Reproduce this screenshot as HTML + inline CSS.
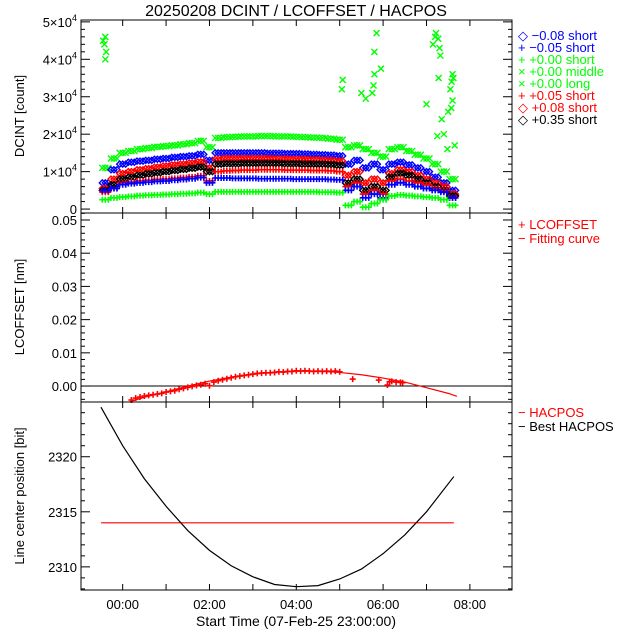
<!DOCTYPE html>
<html><head><meta charset="utf-8"><style>
html,body{margin:0;padding:0;background:#fff;}
svg{display:block;font-family:"Liberation Sans",sans-serif;}
</style></head><body>
<svg id="chart" width="640" height="640" viewBox="0 0 640 640" xmlns="http://www.w3.org/2000/svg">
<rect width="640" height="640" fill="#fff"/>
<text x="296" y="16" font-size="16" text-anchor="middle">20250208 DCINT / LCOFFSET / HACPOS</text>
<g id="plots"></g>
<g font-size="13">
<text x="518" y="40" fill="#0000ff">◇ −0.08 short</text>
<text x="518" y="52" fill="#0000ff">+ −0.05 short</text>
<text x="518" y="64" fill="#00ff00">+ +0.00 short</text>
<text x="518" y="76" fill="#00ff00">× +0.00 middle</text>
<text x="518" y="88" fill="#00ff00">× +0.00 long</text>
<text x="518" y="100" fill="#ff0000">+ +0.05 short</text>
<text x="518" y="112" fill="#ff0000">◇ +0.08 short</text>
<text x="518" y="124" fill="#000">◇ +0.35 short</text>
</g>
<g font-size="13" fill="#ff0000">
<text x="518" y="229">+ LCOFFSET</text>
<text x="518" y="243">− Fitting curve</text>
</g>
<g font-size="13">
<text x="518" y="417" fill="#ff0000">− HACPOS</text>
<text x="518" y="431" fill="#000">− Best HACPOS</text>
</g>
<text x="296" y="626" font-size="14" text-anchor="middle">Start Time (07-Feb-25 23:00:00)</text>
</svg>
<script>
// ---- data ----
const times = [-0.4,-0.2,0,0.2,0.4,0.6,0.8,1,1.2,1.4,1.6,1.8,2,2.2,2.4,2.6,2.8,3,3.2,3.4,3.6,3.8,4,4.2,4.4,4.6,4.8,5,5.2,5.4,5.6,5.8,6,6.2,6.4,6.6,6.8,7,7.2,7.4,7.6];
const greenTop = [11,13.5,15,15.5,16,16.3,16.6,16.8,17,17.3,17.6,18.2,16.5,19,19.2,19.3,19.4,19.4,19.5,19.5,19.4,19.4,19.3,19.2,19.1,19,18.8,18.5,16.5,17,16,15,14,16,16.5,15.5,14.5,13.5,12,10,8];
const blueDiamond = [7,10.5,12,12.5,12.8,13,13.3,13.5,13.8,14,14.2,14.6,13,15,15,15,15,15,15,14.9,14.9,14.8,14.8,14.7,14.6,14.5,14.4,14.2,12,13,11,12,10.5,12,12.5,11.8,11,10,8.5,7,5];
const redDiamond = [5.5,8,9.5,10,10.5,10.8,11.2,11.5,11.8,12,12.3,12.6,11,13.3,13.5,13.5,13.5,13.5,13.5,13.5,13.4,13.4,13.3,13.3,13.2,13.1,13,12.8,9,10,7,8,7,9.5,10.5,10,9,8,7,6,4];
const blackDiamond = [5,6.5,8,8.5,9,9.4,9.7,10,10.3,10.6,10.9,11.2,10,12,12.1,12.1,12.2,12.2,12.2,12.2,12.2,12.1,12.1,12,12,12,11.9,11.7,7,8,5,6,5,8.5,9.5,9,8,7,6,5,3.5];
const redPlus = [4.5,5.5,7,7.2,7.5,7.7,7.9,8,8.2,8.4,8.6,8.9,7.5,10,10.2,10.3,10.4,10.4,10.5,10.5,10.5,10.4,10.4,10.4,10.3,10.3,10.2,10,6,7,4,5,4,7.5,8,7.5,7,6.5,5.5,5,3];
const bluePlus = [5,5.5,6.5,6.8,7,7.2,7.4,7.5,7.7,7.9,8.1,8.4,7,8.3,8.3,8.2,8.2,8.2,8.1,8.1,8.1,8.1,8,8,8,8,7.9,7.8,5,6,3,4,3,6.5,7,6.5,6,5.5,5,4.5,3];
const greenPlus = [2.5,3,3.2,3.4,3.6,3.7,3.8,3.9,4,4.1,4.2,4.4,4,4.6,4.6,4.6,4.6,4.6,4.6,4.6,4.6,4.6,4.6,4.6,4.6,4.5,4.5,4.4,1,2,0.5,1.5,2.5,3.5,3.8,3.6,3.4,3.2,3,2.5,1];
const outlierT = [-0.45,-0.4,-0.42,-0.38,-0.4,5.05,5.07,5.5,5.6,5.75,5.8,5.85,5.8,5.78,5.95,7.0,7.15,7.2,7.22,7.3,7.32,7.28,7.35,7.4,7.25,7.27,7.6,7.62,7.58,7.55,7.6,7.57,7.5,7.48,7.65];
const outlierV = [45,46,44,42,40,32,34.5,31,29.5,31,36,47,42,33,37.5,28,44,46,47,43,41,35,24,20,19.5,45.5,36,35,34,32,29,27,26,16,17];
const lcT = [0.2,0.3,0.4,0.5,0.6,0.7,0.8,0.9,1.0,1.1,1.2,1.3,1.4,1.5,1.6,1.7,1.8,1.9,2.0,2.1,2.2,2.3,2.4,2.5,2.6,2.7,2.8,2.9,3.0,3.1,3.2,3.3,3.4,3.5,3.6,3.7,3.8,3.9,4.0,4.1,4.2,4.3,4.4,4.5,4.6,4.7,4.8,4.9,5.0,5.3,5.9,6.1,6.15,6.2,6.3,6.4,6.45];
const lcV = [-0.0042,-0.0036,-0.0033,-0.0030,-0.0028,-0.0026,-0.0024,-0.0022,-0.0018,-0.0016,-0.0014,-0.0010,-0.0007,-0.0004,-0.0001,0.0002,0.0004,0.0007,0.0001,0.0012,0.0016,0.0019,0.0022,0.0025,0.0028,0.0030,0.0032,0.0034,0.0036,0.0038,0.0039,0.0040,0.0040,0.0041,0.0043,0.0042,0.0044,0.0044,0.0046,0.0045,0.0046,0.0045,0.0044,0.0045,0.0044,0.0045,0.0044,0.0045,0.0043,0.0021,0.0018,0.0003,0.0013,0.0014,0.0012,0.0011,0.0010];
const fitT = [0.17,0.5,1,1.5,2,2.5,3,3.5,4,4.5,5,5.5,6,6.5,7,7.5,7.7];
const fitV = [-0.0047,-0.0034,-0.0017,0.0000,0.0015,0.0027,0.0036,0.0042,0.0045,0.0045,0.0041,0.0034,0.0024,0.0012,-0.0005,-0.0022,-0.0031];
const bestT = [-0.5,0,0.5,1,1.5,2,2.5,3,3.5,4,4.5,5,5.5,6,6.5,7,7.63];
const bestV = [2324.5,2321.0,2318.0,2315.5,2313.3,2311.5,2310.1,2309.1,2308.4,2308.2,2308.3,2308.9,2309.8,2311.2,2312.9,2315.0,2318.2];
const hacT = [-0.5,7.63];
const hacV = [2314.0,2314.0];
const xTickLabels = ["00:00","02:00","04:00","06:00","08:00"];
const xTickHours = [0,2,4,6,8];

// ---- axes ----
const NS="http://www.w3.org/2000/svg";
const X0=81,X1=512,T0=-0.96,T1=8.97;
const xs=t=>X0+(t-T0)/(T1-T0)*(X1-X0);
const P1={top:20,bot:213,lo:-1.05,hi:50.5};
const P2={top:213,bot:402,lo:-0.0048,hi:0.0521};
const P3={top:402,bot:590,lo:2307.9,hi:2324.97};
const ys=(p,v)=>p.bot-(v-p.lo)/(p.hi-p.lo)*(p.bot-p.top);
const root=document.getElementById('plots');
function mk(tag,attrs,parent){const e=document.createElementNS(NS,tag);for(const k in attrs)e.setAttribute(k,attrs[k]);(parent||root).appendChild(e);return e;}

function frame(p,name){
  const g=mk('g',{});
  
  
  mk('rect',{x:X0,y:p.top,width:X1-X0,height:p.bot-p.top,fill:'none',stroke:'#000','stroke-width':1},g);
  for(let h=0;h<=8;h++){const x=xs(h);
    mk('line',{x1:x,x2:x,y1:p.bot,y2:p.bot-6,stroke:'#000'},g);
    mk('line',{x1:x,x2:x,y1:p.top,y2:p.top+6,stroke:'#000'},g);}
  return g;
}
function yticks(g,p,major,minor,fmt){
  for(let v=Math.ceil(p.lo/minor)*minor;v<=p.hi+1e-9;v+=minor){
    const y=ys(p,v);const isMaj=Math.abs(v/major-Math.round(v/major))<1e-6;const L=isMaj?9:4;
    mk('line',{x1:X0,x2:X0+L,y1:y,y2:y,stroke:'#000'},g);
    mk('line',{x1:X1,x2:X1-L,y1:y,y2:y,stroke:'#000'},g);
    if(isMaj&&fmt){const t=mk('text',{x:X0-4,y:y+5,'font-size':13,'text-anchor':'end'},g);t.innerHTML=fmt(v);}
  }
}
function marker(g,type,x,y,c){
  const s=3;
  if(type==='plus'){mk('path',{d:`M${x-s} ${y}h${2*s}M${x} ${y-s}v${2*s}`,stroke:c,'stroke-width':1.6,fill:'none'},g);}
  else if(type==='x'){mk('path',{d:`M${x-s} ${y-s}l${2*s} ${2*s}M${x-s} ${y+s}l${2*s} ${-2*s}`,stroke:c,'stroke-width':1.4,fill:'none'},g);}
  else {mk('path',{d:`M${x} ${y-s}l${s} ${s}l${-s} ${s}l${-s} ${-s}z`,stroke:c,'stroke-width':1.4,fill:'none'},g);}
}
// each measurement drawn as a tight cluster of glyphs (dense IDL look)
const clusterDx=[-3,0,3];

// Panel 1
const g1=frame(P1,'dcint-panel');
yticks(g1,P1,10,2,v=>{const n=Math.round(v/10);return n===0?'0':n+'×10<tspan dy="-6" font-size="9">4</tspan>';});
const clip=mk('clipPath',{id:'c1'});mk('rect',{x:X0,y:P1.top,width:X1-X0,height:P1.bot-P1.top},clip);
const series=[[greenTop,'x','#00ff00','series-green-middle'],[blueDiamond,'d','#0000ff','series-blue-diamond'],[redDiamond,'d','#ff0000','series-red-diamond'],[blackDiamond,'d','#000000','series-black-diamond'],[redPlus,'plus','#ff0000','series-red-plus'],[bluePlus,'plus','#0000ff','series-blue-plus'],[greenPlus,'plus','#00ff00','series-green-plus']];
series.forEach(([vals,type,c,name])=>{
  const g=mk('g',{'clip-path':'url(#c1)'});
  
  
  const n=Math.min(vals.length,times.length);
  for(let i=0;i<n;i++){const x=xs(times[i]),y=ys(P1,vals[i]);clusterDx.forEach(dx=>marker(g,type,x+dx,y,c));}
});
{const g=mk('g',{'clip-path':'url(#c1)'});


for(let i=0;i<outlierT.length;i++)marker(g,'x',xs(outlierT[i]),ys(P1,outlierV[i]),'#00ff00');}
mk('text',{x:24,y:116,'font-size':13,'text-anchor':'middle',transform:'rotate(-90 24 116)'}).textContent='DCINT [count]';

// Panel 2
const g2=frame(P2,'lcoffset-panel');
yticks(g2,P2,0.01,0.002,v=>v.toFixed(2));
mk('line',{x1:X0,x2:X1,y1:ys(P2,0),y2:ys(P2,0),stroke:'#000'},g2);
{const g=mk('g',{});


for(let i=0;i<lcT.length;i++)marker(g,'plus',xs(lcT[i]),ys(P2,lcV[i]),'#ff0000');}
{const p=mk('polyline',{points:fitT.map((t,i)=>xs(t)+','+ys(P2,fitV[i])).join(' '),fill:'none',stroke:'#ff0000','stroke-width':1.2});

}
mk('text',{x:24,y:307,'font-size':13,'text-anchor':'middle',transform:'rotate(-90 24 307)'}).textContent='LCOFFSET [nm]';

// Panel 3
const g3=frame(P3,'hacpos-panel');
yticks(g3,P3,5,1,v=>String(Math.round(v)));
{const p=mk('polyline',{points:hacT.map((t,i)=>xs(t)+','+ys(P3,hacV[i])).join(' '),fill:'none',stroke:'#ff0000','stroke-width':1.2});

}
{const p=mk('path',{d:'',fill:'none',stroke:'#000','stroke-width':1.2});
let d='M'+xs(bestT[0])+' '+ys(P3,bestV[0]);
for(let i=1;i<bestT.length;i++){d+=' L'+xs(bestT[i])+' '+ys(P3,bestV[i]);}
p.setAttribute('d',d);

}
mk('text',{x:24,y:496,'font-size':13,'text-anchor':'middle',transform:'rotate(-90 24 496)'}).textContent='Line center position [bit]';
xTickHours.forEach((h,i)=>{const t=mk('text',{x:xs(h),y:609,'font-size':13,'text-anchor':'middle'});


t.textContent=xTickLabels[i];});
</script>
</body></html>
